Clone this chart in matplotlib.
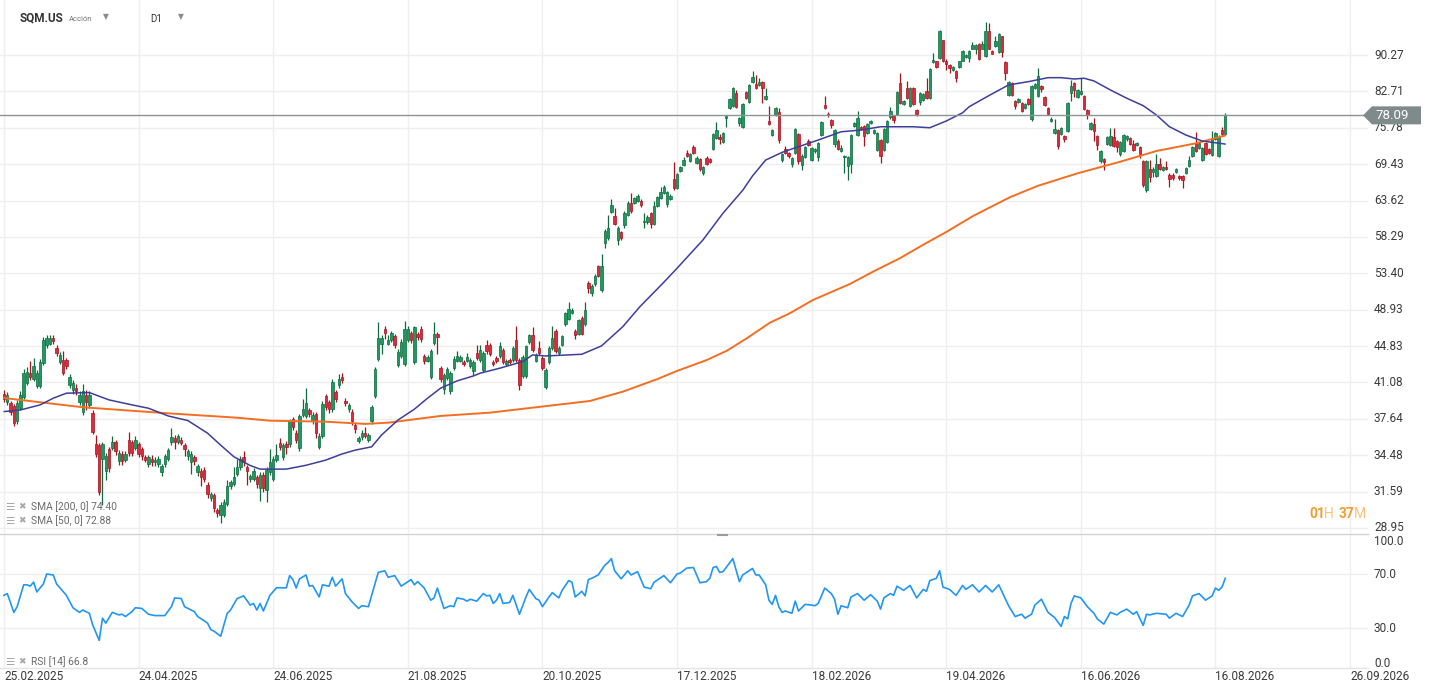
import numpy as np
import matplotlib
matplotlib.use("Agg")
import matplotlib.pyplot as plt
from matplotlib import transforms
from matplotlib.patches import Polygon

plt.rcParams['font.family'] = ['Roboto', 'DejaVu Sans']

# ---------------- data (daily OHLC) ----------------
opens = [
    40.0, 39.2, 39.1, 38.8, 37.4, 38.6, 39.7, 41.0, 42.0, 41.4,
    40.7, 40.7, 43.0, 44.9, 45.1, 45.7, 44.6, 43.2, 43.35, 43.35,
    40.8, 40.3, 40.5, 39.2, 38.3, 39.9, 38.9, 38.2, 35.4, 35.3,
    34.2, 33.2, 35.0, 35.1, 35.6, 34.0, 34.6, 34.1, 35.8, 35.6,
    35.1, 35.4, 35.0, 34.3, 33.8, 34.2, 33.9, 33.8, 33.1, 33.8,
    34.2, 35.6, 35.9, 35.6, 35.8, 35.3, 34.4, 33.9, 34.3, 33.1,
    33.2, 33.3, 32.1, 31.1, 31.3, 30.2, 29.9, 29.9, 30.7, 32.0,
    32.2, 33.0, 33.5, 34.3, 33.5,
    32.6, 32.6, 32.7, 31.9, 32.9, 31.7, 33.1, 32.6, 34.1, 35.5,
    34.3, 35.4, 35.4, 37.6, 36.4, 35.1, 38.0, 37.9, 38.4, 37.5,
    38.1, 35.2, 36.1, 39.8, 39.2, 38.5, 40.1, 40.8, 41.6, 39.3,
    38.5, 38.3, 37.1, 35.7, 36.0, 36.4, 35.8, 37.4, 39.8, 43.5,
    45.1, 46.7, 45.1, 45.5, 45.9, 42.8, 43.8, 42.9, 45.5, 46.3,
    43.1, 46.2, 46.7, 43.8, 43.3, 41.6, 45.2, 46.2, 42.5, 40.4,
    41.5, 40.2, 42.5, 43.3, 43.3, 43.1, 43.3, 42.7, 42.2, 44.1,
    43.4, 42.3, 45.0,
    45.0, 43.2, 43.6, 43.8, 44.4, 42.9, 43.4, 43.4, 45.5, 43.4,
    41.7, 41.7, 45.3, 46.0, 43.3, 44.6, 43.6, 40.6, 43.1, 44.6,
    46.5, 44.1, 45.0, 47.3, 47.9, 48.6, 46.5, 46.2, 48.0, 47.3,
    52.2, 51.0, 52.0, 54.3, 51.3, 57.4, 58.1, 61.9, 61.3, 57.8,
    59.0, 60.0, 61.5, 63.3, 63.3, 63.6, 63.6, 60.4, 60.4, 61.7,
    60.2, 62.8, 64.0, 64.8, 63.1, 63.9, 67.0, 65.6, 68.3, 69.3,
    71.4, 70.0, 72.4, 69.7, 70.3, 68.0, 70.4, 70.3, 72.0, 74.0,
    74.2, 73.3, 77.6, 79.5,
    79.8, 82.4, 76.7, 75.9, 82.6, 80.6, 84.6, 84.2, 84.0, 84.7,
    81.3, 77.0, 74.5, 78.1, 78.8, 70.2, 72.0, 71.3, 69.5, 71.3,
    74.6, 69.3, 70.6, 73.4, 70.1, 71.6, 70.6, 74.5, 80.0, 78.4,
    77.3, 72.9, 73.5, 71.7, 70.6, 69.1, 69.4, 76.2, 74.5, 75.9,
    76.1, 74.9, 76.7, 74.9, 71.8, 73.6, 71.9, 73.3, 77.7, 78.0,
    78.3, 84.4, 80.3, 83.4, 79.8, 83.4, 79.1, 80.6, 81.1, 82.8,
    81.5, 88.8, 88.9, 89.6, 93.5, 88.9, 88.2, 87.0, 86.8, 87.8,
    89.1, 89.8, 89.6, 91.7, 91.7, 92.7,
    91.7, 90.1, 95.7, 91.1, 92.3, 90.9, 94.4, 88.7, 82.1, 84.5,
    80.9, 80.7, 80.4, 79.4, 81.2, 77.5, 83.4, 81.9, 83.9, 81.6,
    79.5, 77.0, 74.8, 75.4, 74.6, 74.3, 75.2, 82.5, 84.5, 81.7,
    82.2, 81.9, 79.1, 75.5, 76.4, 74.3, 69.9, 70.3, 72.9, 72.7,
    74.1, 73.4, 71.1, 71.7, 73.7, 73.9, 72.9, 72.7, 72.4, 70.0,
    65.2, 68.7, 68.1, 67.5, 69.4, 68.5, 69.0, 67.7, 67.7, 68.2,
    67.5, 67.5, 68.0, 69.1, 70.8, 73.1, 72.2, 70.1, 73.1, 72.0,
    71.0, 73.8, 70.9, 75.3, 74.7,
]
highs = [
    40.3, 40.1, 39.3, 39.0, 39.4, 40.2, 42.4, 42.6, 43.3, 43.6,
    42.3, 43.5, 45.8, 46.0, 46.1, 46.1, 44.9, 44.2, 44.3, 43.6,
    41.9, 41.3, 40.9, 40.2, 40.9, 40.3, 40.2, 38.4, 36.2, 35.5,
    35.6, 34.7, 35.2, 36.1, 35.8, 34.9, 34.8, 34.8, 36.5, 35.8,
    36.1, 35.6, 35.2, 34.5, 34.5, 34.5, 34.3, 34.4, 33.8, 34.6,
    35.1, 36.8, 36.2, 36.3, 36.0, 35.5, 35.0, 34.8, 34.5, 33.8,
    33.4, 33.5, 32.3, 31.6, 31.5, 30.4, 30.8, 31.0, 32.5, 32.5,
    33.5, 34.2, 34.4, 34.8, 33.7,
    33.0, 33.4, 32.9, 33.1, 33.1, 33.5, 35.0, 34.4, 35.4, 35.9,
    35.5, 35.7, 37.6, 37.8, 36.6, 38.1, 39.5, 40.5, 38.6, 38.3,
    38.3, 36.4, 39.3, 40.0, 39.4, 41.4, 40.3, 41.9, 42.0, 39.6,
    39.1, 38.5, 37.3, 36.1, 36.6, 36.9, 36.4, 38.9, 42.6, 47.5,
    46.0, 47.0, 46.0, 46.5, 46.2, 44.5, 45.6, 47.6, 47.0, 46.5,
    47.1, 46.4, 47.0, 44.0, 43.9, 44.5, 47.5, 46.4, 42.7, 42.0,
    42.6, 42.2, 43.8, 44.3, 43.9, 43.4, 44.1, 43.6, 43.4, 44.9,
    44.9, 44.3, 45.5,
    45.2, 43.4, 43.8, 45.3, 44.6, 43.5, 43.6, 44.8, 47.1, 43.6,
    43.9, 45.0, 46.2, 46.9, 44.1, 45.4, 43.8, 42.5, 44.8, 47.0,
    46.7, 44.8, 46.1, 48.7, 49.9, 49.1, 46.7, 47.9, 48.2, 49.8,
    52.4, 52.0, 53.3, 54.5, 56.0, 59.4, 61.5, 63.9, 62.5, 59.8,
    59.2, 62.0, 63.5, 64.8, 64.2, 64.6, 63.8, 61.8, 61.4, 61.9,
    63.6, 64.4, 65.8, 66.0, 65.1, 64.6, 69.8, 68.0, 69.1, 70.6,
    71.8, 71.3, 72.8, 70.8, 70.5, 69.1, 70.9, 70.5, 74.8, 76.8,
    74.6, 75.1, 78.2, 81.5,
    83.6, 83.0, 77.8, 80.4, 82.8, 84.2, 86.8, 86.0, 85.4, 84.9,
    83.5, 79.8, 75.5, 79.6, 79.5, 71.3, 72.6, 71.5, 70.6, 75.7,
    74.8, 71.1, 72.6, 73.8, 72.4, 72.2, 73.2, 77.1, 81.8, 78.8,
    77.5, 75.5, 73.7, 72.7, 71.0, 70.9, 74.6, 76.8, 79.0, 76.1,
    76.3, 76.6, 77.3, 75.6, 75.1, 73.8, 75.8, 77.2, 79.6, 78.2,
    82.8, 86.4, 81.1, 84.8, 83.6, 83.6, 79.3, 82.6, 82.4, 85.5,
    87.5, 90.8, 89.1, 95.8, 93.7, 89.5, 88.4, 88.0, 87.0, 89.1,
    91.3, 90.5, 91.3, 93.2, 92.6, 93.0,
    93.4, 97.7, 97.5, 91.3, 94.6, 95.1, 94.6, 88.9, 84.8, 84.7,
    81.1, 81.4, 80.6, 80.4, 81.4, 84.1, 84.5, 87.5, 84.1, 81.8,
    79.7, 77.7, 77.5, 75.6, 76.0, 74.5, 80.7, 85.0, 84.7, 83.3,
    85.5, 82.1, 79.3, 76.9, 77.6, 74.5, 71.8, 70.5, 74.3, 75.8,
    75.8, 73.6, 73.5, 74.7, 74.5, 74.1, 73.6, 73.3, 72.6, 70.2,
    70.2, 70.1, 68.9, 71.2, 70.5, 69.2, 70.0, 67.9, 67.9, 68.8,
    67.7, 67.7, 69.0, 70.8, 72.6, 75.0, 73.2, 72.4, 73.3, 72.2,
    75.2, 75.1, 74.4, 76.0, 78.6,
]
lows = [
    39.2, 38.9, 38.0, 37.0, 37.2, 38.4, 39.5, 40.8, 41.3, 41.2,
    40.5, 40.5, 42.8, 44.6, 44.9, 45.1, 43.8, 42.9, 41.8, 42.4,
    40.5, 40.0, 39.9, 38.9, 38.0, 38.4, 38.6, 36.3, 34.3, 31.3,
    30.6, 32.5, 33.1, 34.9, 34.5, 33.7, 33.7, 33.9, 34.4, 34.4,
    34.9, 34.3, 34.1, 33.9, 33.5, 33.6, 33.6, 33.5, 32.8, 33.5,
    34.0, 35.3, 35.0, 35.4, 35.3, 34.4, 34.1, 33.0, 33.7, 32.8,
    32.0, 32.3, 31.1, 30.9, 30.1, 29.7, 29.3, 29.7, 30.5, 31.8,
    32.0, 32.8, 33.3, 33.6, 32.1,
    32.3, 32.4, 31.9, 30.9, 31.6, 30.8, 32.9, 32.4, 33.9, 34.9,
    34.1, 34.6, 35.2, 36.6, 35.5, 34.8, 37.8, 37.7, 37.8, 37.2,
    35.9, 35.0, 35.9, 38.4, 38.2, 38.3, 39.2, 40.5, 41.0, 38.8,
    38.3, 37.1, 36.4, 35.5, 35.8, 35.9, 35.6, 37.2, 39.6, 43.3,
    44.0, 45.6, 44.9, 45.3, 44.6, 42.6, 43.6, 42.7, 45.3, 45.2,
    42.9, 45.5, 45.3, 42.9, 43.1, 41.4, 45.0, 44.0, 41.1, 40.0,
    41.3, 40.0, 42.3, 43.1, 43.1, 42.7, 43.1, 42.5, 41.8, 43.4,
    43.2, 42.1, 44.0,
    43.8, 42.7, 43.0, 43.6, 42.9, 42.7, 42.9, 43.2, 43.2, 40.3,
    41.5, 41.5, 45.1, 44.2, 43.1, 43.9, 42.3, 40.4, 42.9, 44.4,
    44.1, 43.9, 44.8, 47.1, 47.7, 48.4, 45.6, 46.0, 46.0, 47.1,
    50.9, 50.6, 51.8, 52.9, 51.1, 56.7, 57.9, 61.7, 60.0, 57.2,
    57.8, 59.6, 61.3, 61.8, 63.1, 63.4, 62.7, 59.6, 60.2, 59.5,
    60.0, 62.6, 63.8, 64.6, 62.7, 63.7, 65.3, 65.4, 68.1, 69.1,
    70.6, 69.8, 71.2, 69.5, 68.3, 67.7, 69.3, 69.6, 71.8, 73.8,
    72.9, 73.1, 76.0, 79.3,
    79.6, 79.4, 76.1, 75.7, 81.3, 80.4, 84.4, 83.3, 83.8, 80.5,
    81.1, 76.3, 74.3, 77.9, 73.0, 69.8, 71.2, 70.5, 69.0, 71.1,
    69.5, 68.5, 70.4, 72.5, 69.9, 71.4, 70.0, 74.3, 79.3, 77.7,
    75.8, 72.4, 71.8, 71.5, 68.0, 66.9, 68.0, 76.0, 74.3, 75.3,
    72.5, 74.7, 76.5, 74.7, 71.6, 69.7, 71.7, 73.1, 77.5, 76.6,
    78.1, 80.2, 80.1, 81.3, 79.6, 80.0, 77.9, 80.0, 80.9, 81.3,
    81.3, 88.6, 87.6, 89.4, 88.7, 87.0, 86.4, 86.8, 84.6, 87.6,
    88.9, 89.6, 88.8, 91.5, 90.5, 89.2,
    91.5, 89.9, 91.5, 90.4, 92.1, 90.7, 89.9, 85.0, 81.9, 81.9,
    79.2, 80.5, 78.7, 79.2, 80.0, 77.0, 83.2, 81.7, 82.6, 79.9,
    78.2, 76.8, 74.6, 72.0, 74.4, 73.2, 75.0, 80.9, 81.6, 81.5,
    82.0, 79.1, 77.4, 75.3, 73.5, 71.9, 69.7, 68.4, 72.7, 72.5,
    72.4, 71.5, 70.9, 71.5, 73.5, 72.7, 71.7, 72.5, 70.5, 65.8,
    64.9, 66.5, 67.4, 67.3, 68.5, 68.3, 68.5, 65.8, 66.9, 68.0,
    66.9, 65.6, 67.8, 68.9, 70.6, 71.5, 72.0, 69.9, 71.0, 71.1,
    70.8, 73.6, 70.7, 74.5, 74.5,
]
closes = [
    39.5, 39.9, 38.3, 37.3, 39.1, 39.9, 42.0, 42.1, 41.6, 42.7,
    42.0, 43.2, 45.5, 45.7, 45.7, 45.4, 44.1, 43.9, 42.0, 42.7,
    41.6, 41.0, 40.2, 39.9, 40.2, 39.2, 39.9, 36.5, 34.6, 31.6,
    35.4, 34.4, 33.4, 35.6, 34.8, 34.7, 34.0, 34.6, 34.7, 34.7,
    35.8, 34.6, 34.4, 34.1, 34.3, 33.9, 34.1, 34.2, 33.6, 34.4,
    34.9, 36.0, 35.6, 36.1, 35.5, 35.0, 34.8, 34.6, 34.0, 33.6,
    32.7, 32.6, 31.4, 31.4, 30.4, 30.0, 30.6, 30.8, 32.0, 32.3,
    32.7, 33.5, 34.2, 33.9, 33.2,
    32.8, 33.2, 32.2, 32.9, 31.9, 33.3, 33.9, 34.2, 34.5, 35.2,
    35.3, 35.2, 37.4, 36.9, 35.8, 37.9, 38.5, 39.1, 38.1, 38.0,
    36.4, 36.1, 39.0, 38.7, 38.5, 41.1, 39.5, 41.4, 41.3, 39.1,
    38.9, 37.4, 36.7, 35.9, 36.4, 36.1, 36.2, 38.7, 42.4, 45.7,
    45.7, 46.3, 45.5, 46.3, 45.0, 44.2, 45.3, 46.7, 46.7, 45.5,
    46.9, 45.8, 45.6, 43.3, 43.7, 44.3, 46.2, 45.8, 41.4, 41.8,
    42.4, 42.0, 43.5, 43.8, 43.7, 42.9, 43.7, 43.4, 43.2, 43.6,
    44.4, 44.1, 44.3,
    44.0, 42.9, 43.3, 44.8, 43.1, 43.3, 43.1, 44.6, 43.4, 40.8,
    43.7, 44.8, 46.0, 44.4, 43.9, 44.1, 42.5, 42.3, 44.6, 45.7,
    44.3, 44.6, 45.9, 48.5, 49.0, 48.9, 46.0, 47.7, 46.2, 48.9,
    51.6, 51.8, 53.1, 53.1, 54.4, 59.2, 59.5, 63.0, 60.2, 59.6,
    58.2, 61.8, 63.3, 62.0, 64.0, 64.4, 62.9, 60.6, 61.2, 60.2,
    62.8, 64.2, 65.0, 65.8, 64.9, 64.4, 65.5, 67.8, 68.9, 70.2,
    70.8, 71.1, 71.4, 70.5, 68.7, 68.9, 69.5, 69.8, 74.6, 75.4,
    73.8, 74.9, 77.9, 81.2,
    83.4, 79.6, 77.6, 80.2, 81.5, 84.0, 85.7, 83.5, 84.7, 83.4,
    81.9, 76.5, 75.3, 79.4, 73.6, 71.1, 71.4, 70.8, 70.4, 75.5,
    69.9, 70.9, 72.4, 72.7, 72.2, 72.0, 73.0, 76.9, 79.5, 78.2,
    76.3, 75.3, 72.0, 72.2, 70.8, 70.7, 74.4, 76.6, 77.6, 75.5,
    74.3, 76.4, 77.1, 75.4, 74.9, 70.9, 75.6, 77.0, 78.9, 77.2,
    82.6, 80.4, 80.9, 81.5, 83.4, 80.2, 78.4, 82.4, 82.2, 81.5,
    87.3, 89.2, 87.8, 95.6, 88.9, 88.4, 87.5, 87.8, 85.4, 88.9,
    91.1, 90.3, 91.1, 92.4, 92.4, 89.4,
    92.8, 95.7, 91.7, 90.6, 93.4, 94.9, 90.9, 86.4, 84.6, 82.1,
    79.8, 81.2, 78.9, 80.2, 80.2, 83.9, 84.3, 85.9, 83.3, 80.1,
    78.4, 77.5, 75.6, 72.5, 75.8, 73.7, 80.5, 83.8, 83.1, 83.1,
    82.9, 79.3, 78.2, 76.7, 75.2, 72.7, 71.6, 69.8, 74.1, 74.3,
    72.6, 72.4, 73.3, 74.5, 74.3, 72.9, 71.9, 73.1, 71.2, 66.1,
    70.0, 67.4, 68.7, 69.5, 68.7, 69.0, 68.7, 67.0, 67.1, 68.6,
    67.1, 66.9, 68.8, 70.1, 72.4, 71.7, 73.0, 72.2, 71.2, 71.3,
    73.7, 74.9, 74.2, 74.7, 78.09,
]

sma50_idx = [0, 5, 11, 15, 19, 26, 32, 39, 44, 50, 56, 62, 66, 70, 75, 78, 86, 92, 98, 103,
             107, 112, 115, 120, 125, 129, 133, 138, 143, 145, 151, 158, 161, 165, 176, 182,
             188.5, 193.7, 200.7, 205, 212.9, 219, 225.1, 228, 232, 237, 242, 248, 255, 261,
             267, 277, 282, 287, 292, 294, 300, 306, 312, 318, 322, 326, 329, 332, 337, 342,
             347, 351, 355, 360, 365, 372]
sma50_val = [38.30, 38.45, 38.92, 39.55, 40.03, 40.09, 39.39, 38.92, 38.61, 37.90, 37.48, 36.36,
             35.33, 34.36, 33.64, 33.35, 33.35, 33.66, 34.08, 34.59, 34.91, 35.19, 36.20, 37.53,
             38.52, 39.55, 40.52, 41.23, 41.73, 42.00, 42.51, 43.19, 43.89, 43.78, 43.96, 44.85,
             46.98, 49.29, 52.15, 54.06, 57.87, 61.71, 65.27, 67.50, 70.13, 71.44, 72.42, 73.59,
             75.07, 75.38, 75.98, 75.98, 75.80, 77.03, 78.58, 79.73, 81.89, 84.02, 84.68, 85.50,
             85.50, 85.23, 85.38, 84.83, 83.01, 81.37, 79.93, 78.17, 75.98, 74.48, 73.42, 72.88]

sma200_idx = [0, 24, 50, 71, 81, 98, 110, 117, 133, 148, 178.5, 188.5, 198.9, 205, 214.1,
              220.2, 226.3, 233.3, 239.4, 246.4, 257.7, 264.7, 272.9, 279.9, 287.2, 295.2,
              306.4, 315, 327, 340, 351, 363, 372]
sma200_val = [39.57, 38.70, 38.14, 37.74, 37.47, 37.38, 37.18, 37.29, 37.90, 38.20, 39.29,
              40.18, 41.40, 42.23, 43.36, 44.34, 45.69, 47.43, 48.52, 50.09, 52.06, 53.62,
              55.38, 57.18, 59.04, 61.31, 64.13, 65.93, 67.93, 69.85, 71.67, 73.01, 74.40]

rsi_idx = [0, 1, 3, 4, 6, 7, 8, 9, 10, 12, 13, 15, 16, 19, 21, 23, 24, 26, 27, 29, 30, 31, 33,
           35, 36, 37, 39, 40, 42, 44, 46, 49, 50, 51, 52, 54, 55, 58, 59, 61, 62, 63, 64, 66,
           68, 69, 71, 73, 75, 76, 77, 78, 79, 81, 83, 84, 86, 87, 88, 89, 90, 92, 93, 94, 96,
           97, 99, 100, 101, 103, 104, 106, 108, 109, 111, 114, 116, 117, 119, 121, 124, 125,
           126, 128, 130, 131, 132, 134, 136, 137, 138, 140, 141, 142, 144, 146, 147, 148, 149,
           150, 151, 152, 154, 155, 157, 159, 160, 162, 163, 164, 166, 167, 169, 170, 172, 173,
           174, 176, 177, 178, 179, 181, 183, 184, 185, 186, 188, 190, 191, 193, 195, 197, 198,
           201, 203, 205, 206, 208, 210, 212, 214, 215, 216, 217, 218, 219, 222, 224, 225, 228,
           229, 230, 232, 233, 234, 235, 236, 237, 238, 240, 241, 242, 244, 246, 247, 248, 250,
           252, 253, 254, 255, 257, 258, 260, 262, 264, 266, 267, 268, 270, 271, 272, 274, 276,
           278, 280, 281, 282, 284, 285, 286, 288, 290, 292, 293, 295, 297, 299, 301, 303, 306,
           308, 310, 311, 313, 314, 316, 318, 320, 322, 323, 324, 325, 326, 328, 330, 332, 333,
           335, 337, 339, 340, 342, 344, 345, 347, 348, 349, 351, 354, 355, 357, 359, 361, 362,
           364, 366, 368, 369, 370, 371, 372]
rsi_val = [54.2, 55.5, 41.6, 45.8, 62.0, 62.0, 61.0, 64.0, 56.7, 62.7, 70.0, 69.3, 62.7, 54.2,
           45.0, 41.6, 43.3, 40.9, 32.4, 20.8, 37.3, 33.6, 41.6, 39.7, 40.2, 38.5, 42.1, 45.0,
           44.5, 40.2, 39.2, 39.2, 42.6, 45.8, 52.3, 51.8, 45.8, 42.1, 38.5, 35.3, 33.6, 28.8,
           27.6, 23.9, 40.9, 43.3, 51.8, 53.8, 47.0, 48.2, 43.3, 48.2, 42.6, 54.2, 59.8, 59.8,
           59.8, 68.8, 65.9, 59.6, 66.4, 69.3, 61.0, 61.5, 53.0, 62.0, 61.0, 67.6, 61.0, 66.4,
           55.5, 49.4, 44.5, 46.5, 45.8, 71.2, 72.4, 67.6, 68.8, 61.0, 65.9, 62.0, 64.4, 59.6,
           50.6, 52.3, 59.6, 44.5, 46.5, 45.8, 52.3, 51.3, 49.9, 51.3, 49.9, 55.5, 53.8, 54.2,
           48.2, 50.6, 55.5, 48.2, 48.9, 54.2, 40.2, 53.0, 58.6, 51.8, 50.6, 45.8, 53.0, 56.2,
           52.3, 57.9, 65.1, 63.9, 53.0, 57.2, 53.8, 65.9, 66.8, 69.3, 76.5, 78.5, 81.4, 72.4,
           66.4, 72.4, 69.3, 71.7, 60.3, 59.1, 63.9, 68.8, 63.5, 70.0, 70.7, 74.4, 74.8, 63.5,
           64.4, 66.8, 74.8, 75.6, 71.2, 71.7, 81.4, 64.4, 69.3, 74.1, 69.3, 69.3, 62.0, 50.6,
           47.5, 54.2, 45.8, 41.6, 42.6, 40.9, 49.9, 42.6, 47.5, 47.0, 46.5, 48.2, 59.6, 55.5,
           51.3, 40.2, 46.5, 45.0, 53.0, 55.5, 50.6, 54.7, 49.9, 44.0, 52.3, 55.5, 54.2, 61.0,
           57.9, 61.5, 52.3, 58.6, 57.2, 65.1, 66.8, 72.4, 60.3, 58.6, 54.2, 61.5, 58.6, 62.0,
           56.7, 61.5, 56.7, 62.0, 46.5, 38.5, 40.2, 37.3, 40.2, 47.0, 51.3, 41.6, 37.8, 31.2,
           38.5, 36.8, 48.2, 53.8, 52.3, 45.8, 40.9, 36.8, 32.9, 41.6, 39.7, 41.6, 44.0, 40.2,
           42.1, 31.9, 40.2, 39.7, 40.9, 40.2, 37.3, 40.9, 38.5, 47.0, 53.8, 55.5, 50.6, 53.8,
           59.6, 57.9, 60.3, 66.8]

price_ticks = [28.95, 31.59, 34.48, 37.64, 41.08, 44.83, 48.93, 53.40, 58.29, 63.62,
               69.43, 75.78, 82.71, 90.27]
date_idx = [0, 41, 82, 123, 164, 205, 246, 287, 328, 369, 410]
date_labels = ['25.02.2025', '24.04.2025', '24.06.2025', '21.08.2025', '20.10.2025',
               '17.12.2025', '18.02.2026', '19.04.2026', '16.06.2026', '16.08.2026', '26.09.2026']
rsi_levels = [100, 70, 30, 0]
last_price = 78.09
sma200_last = 74.40
sma50_last = 72.88
rsi_last = 66.8

# ---------------- layout ----------------
W, H = 1434, 694
BAR = 3.283           # pixels per bar
X0 = 4                # pixel of first bar
PLOT_R = 1368         # right edge of the plotting area (px)

fig = plt.figure(figsize=(W / 100, H / 100), dpi=100)
fig.patch.set_facecolor('white')


def px_rect(x0, y0, x1, y1):
    return [x0 / W, 1 - y1 / H, (x1 - x0) / W, (y1 - y0) / H]


xlim = (-X0 / BAR, (PLOT_R - X0) / BAR)
GRID = '#efefef'
TXT = '#3a3a3a'

# ---------------- price panel ----------------
ax = fig.add_axes(px_rect(0, 0, PLOT_R, 533))
ax.set_yscale('log')
ax.set_ylim(28.60, 103.06)
ax.set_xlim(*xlim)
ax.axis('off')

for p in price_ticks:
    ax.axhline(p, color=GRID, lw=1, zorder=0)
for i in date_idx:
    ax.axvline(i, color=GRID, lw=1, zorder=0)

o = np.array(opens); hi = np.array(highs); lo = np.array(lows); c = np.array(closes)
n = len(c)
assert len(o) == n and len(hi) == n and len(lo) == n
hi = np.maximum(hi, np.maximum(o, c))
lo = np.minimum(lo, np.minimum(o, c))
x = np.arange(n)
up = c >= o
bot = np.minimum(o, c)
top = np.maximum(np.maximum(o, c), bot * 1.003)

G_FILL, G_EDGE = '#1f9a5e', '#0f6b3e'
R_FILL, R_EDGE = '#e02a3b', '#a3141f'
for m, fill, edge in [(up, G_FILL, G_EDGE), (~up, R_FILL, R_EDGE)]:
    ax.vlines(x[m], lo[m], hi[m], color=edge, lw=0.9, zorder=3)
    ax.bar(x[m], (top - bot)[m], bottom=bot[m], width=0.74, color=fill,
           edgecolor=edge, linewidth=0.5, zorder=4)

ax.plot(sma200_idx, sma200_val, color='#f36e22', lw=1.4, zorder=5, solid_capstyle='round')
ax.plot(sma50_idx, sma50_val, color='#3e3e9a', lw=1.1, zorder=5, solid_capstyle='round')
ax.axhline(last_price, color='#8a9595', lw=1.0, zorder=6)

trans_p = transforms.blended_transform_factory(ax.transAxes, ax.transData)
for p in price_ticks:
    ax.text(1374 / PLOT_R, p, f'{p:.2f}', transform=trans_p, ha='left', va='center',
            fontsize=8.5, color=TXT, clip_on=False, zorder=7)

# ---------------- RSI panel ----------------
ax2 = fig.add_axes(px_rect(0, 535, PLOT_R, 668))
ax2.set_xlim(*xlim)
ax2.set_ylim(0.37, 98.9)
ax2.axis('off')
for lv in (70, 30):
    ax2.axhline(lv, color=GRID, lw=1, zorder=0)
for i in date_idx:
    ax2.axvline(i, color=GRID, lw=1, zorder=0)
ax2.plot(rsi_idx, rsi_val, color='#2196f3', lw=1.2, zorder=3)

trans_r = transforms.blended_transform_factory(ax2.transAxes, ax2.transData)
offs = {100: -7.5, 70: 0, 30: 0, 0: 4.5}
for lv in rsi_levels:
    ax2.annotate(f'{lv:.1f}', xy=(1374 / PLOT_R, lv), xycoords=trans_r,
                 xytext=(0, offs[lv]), textcoords='offset pixels',
                 ha='left', va='center', fontsize=8.5, color=TXT, annotation_clip=False)

trans_d = transforms.blended_transform_factory(ax2.transData, ax2.transAxes)
for i, lab in zip(date_idx, date_labels):
    ax2.text(i, -(677 - 668) / 133, lab, transform=trans_d, ha='left', va='center',
             fontsize=8.5, color=TXT, clip_on=False)

# ---------------- overlay (pixel coordinates) ----------------
ov = fig.add_axes([0, 0, 1, 1])
ov.set_xlim(0, W)
ov.set_ylim(H, 0)
ov.axis('off')
ov.set_zorder(10)

# panel separator and RSI base line
ov.plot([0, PLOT_R], [533.5, 533.5], color='#d2d2d2', lw=1)
ov.plot([718, 727], [534.5, 534.5], color='#9a9a9a', lw=1.5)
ov.plot([0, PLOT_R], [668, 668], color='#e4e4e4', lw=1)

# last price tag
yb = H - ax.transData.transform((0, last_price))[1]
tag = Polygon([(1363, yb), (1372, yb - 9), (1421, yb - 9), (1421, yb + 9), (1372, yb + 9)],
              closed=True, facecolor='#7f8b8b', edgecolor='none', zorder=20)
ov.add_patch(tag)
ov.text(1375, yb + 0.5, f'{last_price:.2f}', color='white', fontsize=9.5, ha='left',
        va='center', zorder=21)

# header
ov.text(20, 18, 'SQM.US', fontsize=8.5, fontweight='bold', color='#333333', va='center')
ov.text(69, 19, 'Acción', fontsize=5.5, color='#777777', va='center')
ov.text(103, 16.5, '▼', fontsize=5.5, color='#8a8a8a', va='center', family='DejaVu Sans')
ov.text(150, 19, 'D1', fontsize=7, color='#333333', va='center')
ov.text(178, 16.5, '▼', fontsize=5.5, color='#8a8a8a', va='center', family='DejaVu Sans')

# indicator legends
LEG = '#6b6b6b'
for ypos, label in [(507, f'SMA [200, 0] {sma200_last:.2f}'),
                    (521, f'SMA [50, 0] {sma50_last:.2f}'),
                    (662, f'RSI [14] {rsi_last:.1f}')]:
    ov.text(5, ypos, '☰', fontsize=7.5, color='#a8a8a8', va='center', family='DejaVu Sans')
    ov.text(18, ypos, '✖', fontsize=6.5, color='#a8a8a8', va='center', family='DejaVu Sans')
    ov.text(31, ypos, label, fontsize=7.4, color=LEG, va='center')

# countdown
ov.text(1309, 514, '01', fontsize=10, fontweight='bold', color='#f0a033', va='center')
ov.text(1324, 514, 'H', fontsize=10, color='#f6c27d', va='center')
ov.text(1339, 514, '37', fontsize=10, fontweight='bold', color='#f0a033', va='center')
ov.text(1354, 514, 'M', fontsize=10, color='#f6c27d', va='center')

fig.savefig('out.png', dpi=100, facecolor='white')
